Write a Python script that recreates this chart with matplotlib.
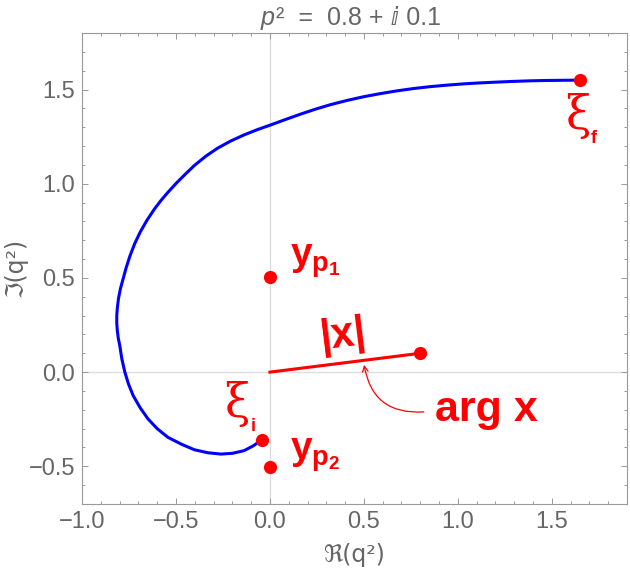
import matplotlib
matplotlib.use('Agg')
import matplotlib.pyplot as plt
from matplotlib.ticker import MultipleLocator

plt.rcParams['font.family'] = ['Liberation Sans', 'DejaVu Sans']
plt.rcParams['mathtext.fontset'] = 'custom'
plt.rcParams['mathtext.rm'] = 'Liberation Sans'
plt.rcParams['mathtext.it'] = 'Liberation Sans:italic'
plt.rcParams['mathtext.bf'] = 'Liberation Sans:bold'

# ── data ─────────────────────────────────────────────────────────────────────
# integration path in the q^2 plane, from xi_i to xi_f
path_re = [-0.040, -0.090, -0.138, -0.200, -0.261, -0.330, -0.402, -0.470,
           -0.543, -0.600, -0.649, -0.690, -0.728, -0.753, -0.772, -0.788,
           -0.799, -0.807, -0.812, -0.815, -0.815, -0.812, -0.806, -0.795,
           -0.781, -0.765, -0.745, -0.720, -0.690, -0.655, -0.615, -0.580,
           -0.543, -0.500, -0.452, -0.402, -0.340, -0.278, -0.208, -0.138,
           -0.067, 0.004, 0.083, 0.162, 0.240, 0.320, 0.410, 0.500,
           0.586, 0.670, 0.762, 0.850, 0.939, 1.030, 1.115, 1.200,
           1.291, 1.380, 1.468, 1.560, 1.650]
path_im = [-0.358, -0.392, -0.417, -0.431, -0.435, -0.428, -0.412, -0.383,
           -0.346, -0.300, -0.248, -0.190, -0.124, -0.062, 0.000, 0.070,
           0.141, 0.180, 0.220, 0.260, 0.300, 0.340, 0.390, 0.445,
           0.496, 0.554, 0.616, 0.681, 0.744, 0.805, 0.865, 0.911,
           0.954, 1.001, 1.049, 1.097, 1.147, 1.189, 1.227, 1.259,
           1.287, 1.312, 1.341, 1.369, 1.395, 1.419, 1.442, 1.462,
           1.478, 1.492, 1.505, 1.515, 1.523, 1.530, 1.535, 1.539,
           1.543, 1.546, 1.548, 1.549, 1.550]

xi_i = (-0.04, -0.358)
xi_f = (1.65, 1.550)
y_p1 = (0.0, 0.505)
y_p2 = (0.0, -0.505)
x_pt = (0.8, 0.10)

RED = '#FF0000'
GRAY = '#666666'

fig = plt.figure(figsize=(6.3, 5.76), dpi=100)
ax = fig.add_axes([82/630, 72/576, 545/630, 471/576])

ax.axhline(0, color='#dddddd', lw=1.0, zorder=1)
ax.axvline(0, color='#dddddd', lw=1.0, zorder=1)

ax.plot(path_re, path_im, color='#0000FF', lw=2.2, zorder=3,
        solid_capstyle='round', solid_joinstyle='round')

# |x| segment
ax.plot([0, x_pt[0]], [0, x_pt[1]], color=RED, lw=2.2, zorder=3)

# red points
for p in (xi_i, xi_f, y_p1, y_p2, x_pt):
    ax.plot(*p, 'o', color=RED, ms=9.5, mec='none', zorder=4)

# labels
def to_d(px, py):
    return (px - 269.3) / 189.0, (373.3 - py) / 188.0

ax.text(*to_d(579, 118), 'ξ', color=RED, fontsize=33, family='DejaVu Serif',
        ha='center', va='center')
ax.text(*to_d(595, 140), 'f', color=RED, fontsize=13, weight='bold',
        ha='center', va='center')
ax.text(*to_d(236, 405), 'ξ', color=RED, fontsize=33, family='DejaVu Serif',
        ha='center', va='center')
ax.text(*to_d(253, 428), 'i', color=RED, fontsize=13, weight='bold',
        ha='center', va='center')

ax.text(*to_d(289, 263), r'$\mathbf{y}_{\mathbf{p}_{\mathbf{1}}}$', color=RED,
        fontsize=28, ha='left', va='center')
ax.text(*to_d(289, 456), r'$\mathbf{y}_{\mathbf{p}_{\mathbf{2}}}$', color=RED,
        fontsize=28, ha='left', va='center')

ax.text(*to_d(343, 337), '|x|', color=RED, fontsize=30, weight='bold',
        ha='center', va='center', rotation=7)
ax.text(*to_d(487, 411), 'arg x', color=RED, fontsize=31, weight='bold',
        ha='center', va='center')

ax.annotate('', xy=to_d(364, 366), xytext=to_d(424, 413),
            arrowprops=dict(arrowstyle='->', color=RED, lw=0.9,
                            connectionstyle='arc3,rad=-0.45',
                            shrinkA=0, shrinkB=0))

ax.set_xlim(-1.0, 1.9)
ax.set_ylim(-0.7, 1.8)
ax.xaxis.set_major_locator(MultipleLocator(0.5))
ax.xaxis.set_minor_locator(MultipleLocator(0.1))
ax.yaxis.set_major_locator(MultipleLocator(0.5))
ax.yaxis.set_minor_locator(MultipleLocator(0.1))
ax.xaxis.set_major_formatter(lambda v, pos: f'{v:.1f}'.replace('-', '\u2212'))
ax.yaxis.set_major_formatter(lambda v, pos: f'{v:.1f}'.replace('-', '\u2212'))

for s in ax.spines.values():
    s.set_color('#999999')
    s.set_linewidth(0.8)
ax.tick_params(which='both', direction='in', top=True, right=True,
               color='#999999', width=0.7, labelcolor=GRAY, labelsize=17)
ax.tick_params(which='major', length=4, pad=5)
ax.tick_params(which='minor', length=2.2)

# title: italic p, the rest plain text so the fallback font supplies ⅈ
fig.text(261/630, 1 - 18/576, 'p', color=GRAY, fontsize=18,
         style='italic', ha='left', va='center')
fig.text(276/630, 1 - 18/576, '²  =  0.8 + ⅈ 0.1', color=GRAY, fontsize=18,
         ha='left', va='center', family=['Liberation Sans', 'DejaVu Sans'])
fig.text(354/630, 1 - 555/576, 'ℜ(q²)', color=GRAY, fontsize=17,
         ha='center', va='center', family=['DejaVu Sans'])
fig.text(16/630, 1 - 267/576, 'ℑ(q²)', color=GRAY, fontsize=17,
         ha='center', va='center', rotation=90, family=['DejaVu Sans'])

fig.savefig('out.png', dpi=100)
